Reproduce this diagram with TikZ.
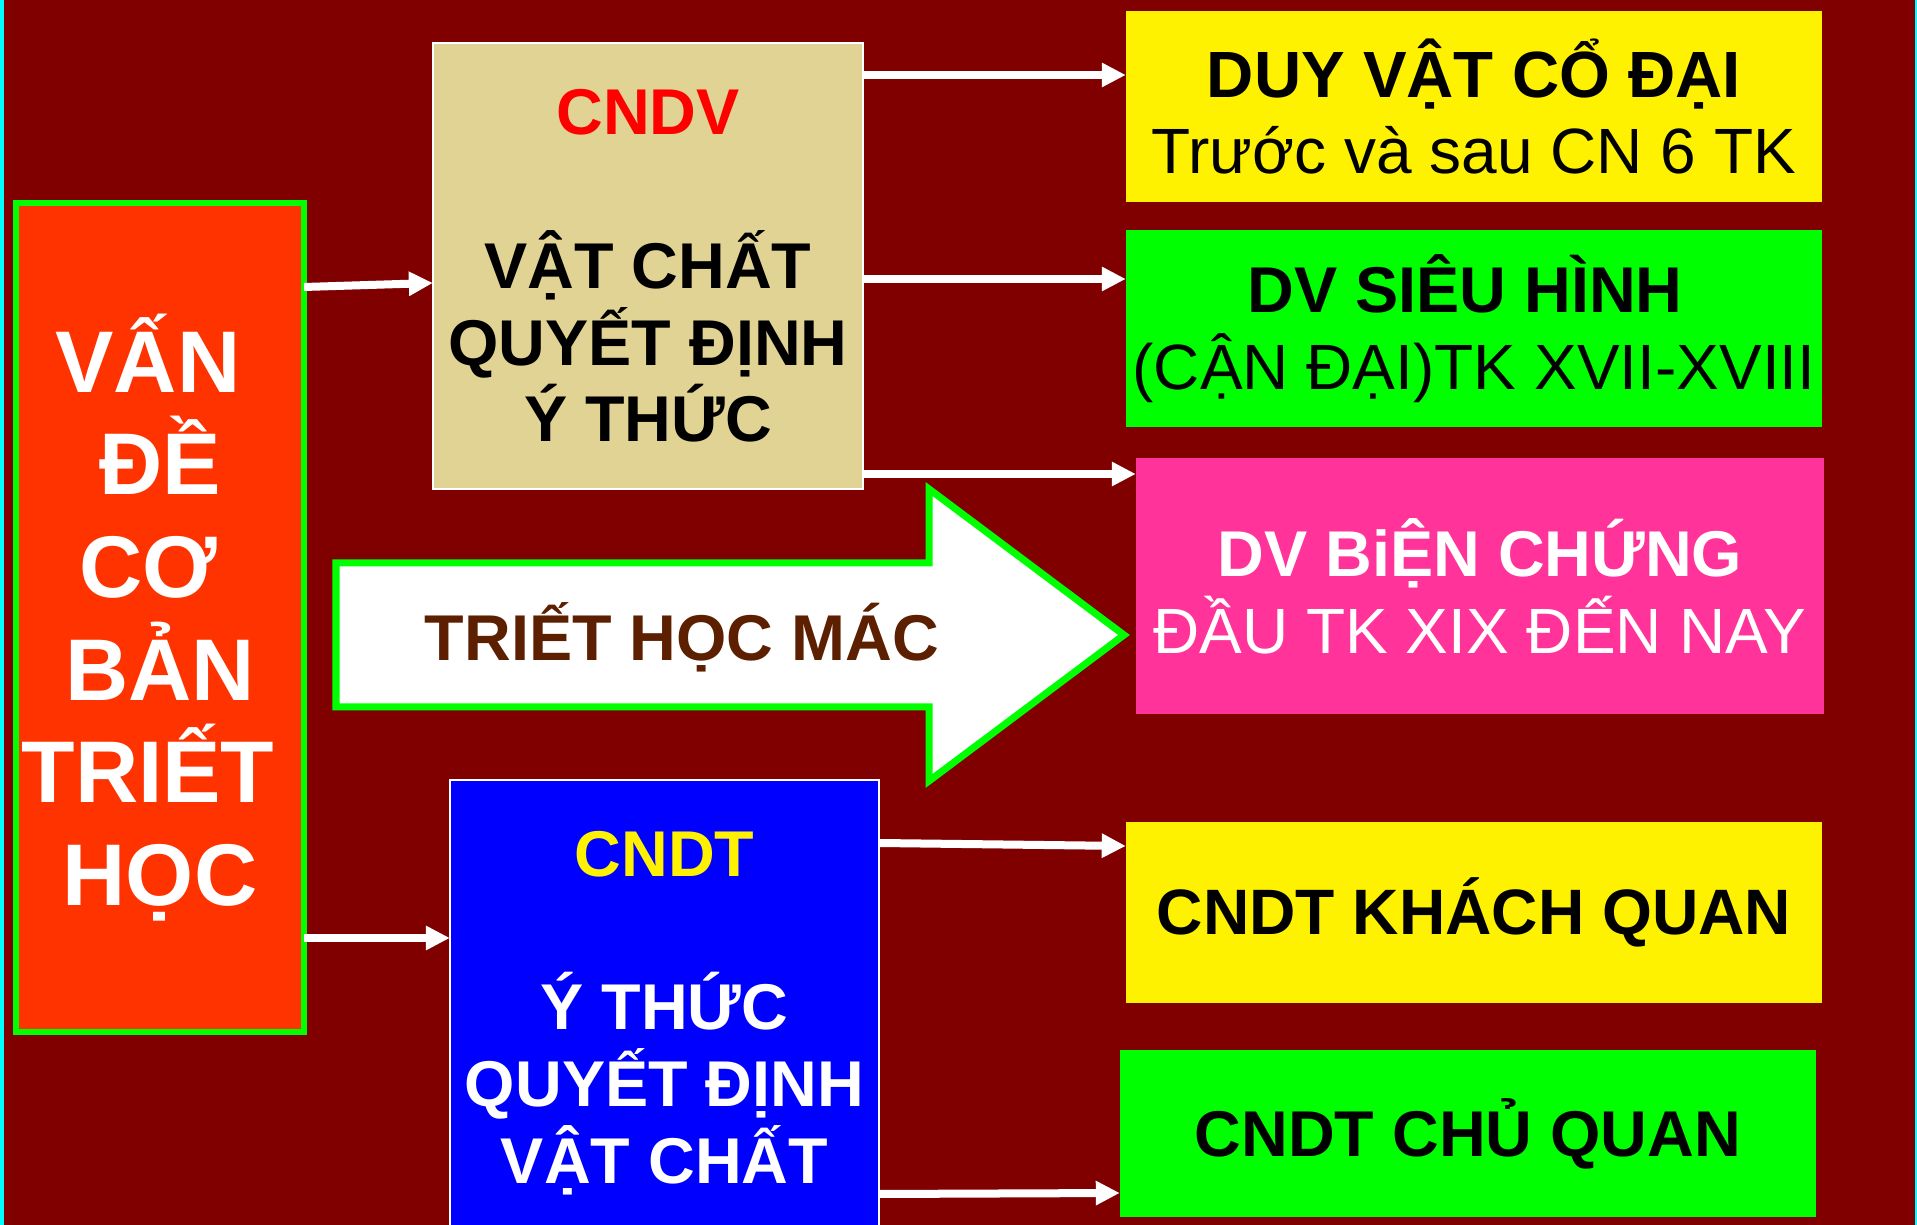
\documentclass[tikz,border=0pt]{standalone}
\usepackage{fontspec}
\setmainfont{Liberation Sans}
\usetikzlibrary{arrows.meta,calc,positioning}
\definecolor{slidebg}{RGB}{128,0,0}
\definecolor{edgecyan}{RGB}{0,255,255}
\definecolor{vanred}{RGB}{255,51,0}
\definecolor{lime}{RGB}{0,255,0}
\definecolor{cndvtan}{RGB}{224,211,148}
\definecolor{pinkbox}{RGB}{255,51,153}
\definecolor{macbrown}{RGB}{92,32,0}

\begin{document}
\begin{tikzpicture}[x=.01cm,y=-.01cm,
 box/.style={rectangle,inner sep=0pt,outer sep=0pt,align=center,font=\fontsize{18.2}{21.8}\selectfont},
 link/.style={draw=white,line width=.08cm,-{Triangle[length=.24cm,width=.23cm]}}]
\useasboundingbox (0,0) rectangle (1917,1225);
\clip (0,0) rectangle (1917,1225);
\fill[slidebg] (0,0) rectangle (1917,1225);
\fill[edgecyan] (0,0) rectangle (4,1225);
\fill[edgecyan] (1915,0) rectangle (1917,1225);
\node[box,fill=vanred,draw=lime,line width=.06cm,minimum width=2.88cm,minimum height=8.29cm,text=white,font=\fontsize{24.9}{29.2}\selectfont\bfseries] (vande) at (160,617.5) {VẤN\kern.24cm\\ĐỀ\\CƠ\kern.24cm\\BẢN\\TRIẾT\kern.24cm\\HỌC};
\node[box,fill=cndvtan,draw=white,line width=.02cm,minimum width=4.3cm,minimum height=4.46cm,font=\fontsize{18.4}{21.8}\selectfont\bfseries] (cndv) at (648,266) {\textcolor{red}{CNDV}\\[.77cm]VẬT CHẤT\\QUYẾT ĐỊNH\\Ý THỨC};
\node[box,fill=blue,draw=white,line width=.02cm,minimum width=4.29cm,minimum height=4.66cm,text=white,font=\fontsize{18.4}{21.8}\selectfont\bfseries] (cndt) at (664.5,1013) {\textcolor{yellow}{CNDT}\\[.77cm]Ý THỨC\\QUYẾT ĐỊNH\\VẬT CHẤT};
\node[box,fill=yellow,minimum width=6.96cm,minimum height=1.91cm] (dvcd) at (1474,106.5) {{\fontsize{18.6}{21.8}\selectfont\bfseries DUY VẬT CỔ ĐẠI}\\Trước và sau CN 6 TK};
\node[box,fill=lime,minimum width=6.96cm,minimum height=1.97cm] (dvsh) at (1474,328.5) {{\fontsize{18.4}{21.8}\selectfont\bfseries DV SIÊU HÌNH\kern.18cm}\\(CẬN ĐẠI)TK XVII-XVIII};
\node[box,fill=pinkbox,minimum width=6.88cm,minimum height=2.56cm,text=white] (dvbc) at (1480,586) {{\fontsize{18.4}{21.8}\selectfont\bfseries DV BiỆN CHỨNG}\\ĐẦU TK XIX ĐẾN NAY};
\node[box,fill=yellow,minimum width=6.96cm,minimum height=1.81cm,font=\fontsize{18.25}{21.8}\selectfont\bfseries] (khach) at (1474,912.5) {CNDT KHÁCH QUAN};
\node[box,fill=lime,minimum width=6.96cm,minimum height=1.67cm,font=\fontsize{18.4}{21.8}\selectfont\bfseries] (chu) at (1468,1133.5) {CNDT CHỦ QUAN};
\draw[draw=lime,fill=white,line width=.07cm] (336,563) -- (929,563) -- (929,489) -- (1124,635) -- (929,781) -- (929,707) -- (336,707) -- cycle;
\node[anchor=base,text=macbrown,font=\fontsize{18.4}{21.8}\selectfont\bfseries] (mac) at (682,661) {TRIẾT HỌC MÁC};
\draw[link] (vande.east |- 0,287) -- (cndv.west |- 0,283);
\draw[link] (vande.east |- 0,938) -- (cndt.west |- 0,938);
\foreach \y/\t in {75/dvcd,279/dvsh,474/dvbc}{
 \draw[link] (cndv.east |- 0,\y) -- (\t.west |- 0,\y);
}
\draw[link] (cndt.east |- 0,843) -- (khach.west |- 0,846);
\draw[link] (cndt.east |- 0,1194) -- (chu.west |- 0,1193);
\end{tikzpicture}
\end{document}
